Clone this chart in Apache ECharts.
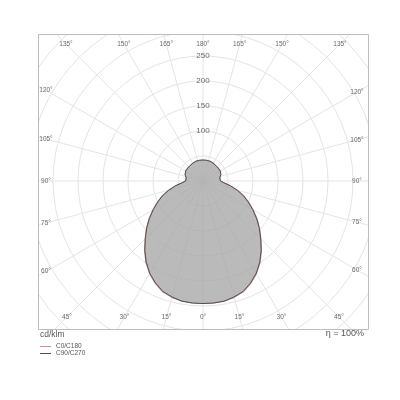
<!DOCTYPE html>
<html>
<head>
<meta charset="utf-8">
<script src="https://cdn.jsdelivr.net/npm/echarts@6/dist/echarts.min.js"></script>
<style>
html,body{margin:0;padding:0;background:#fff;}
#chart{width:400px;height:400px;}
</style>
</head>
<body>
<div id="chart"></div>
<script>
// Gamma angles (deg) for one half-plane, 0 = straight down, 180 = straight up
const gammaAngles = [0,5,10,15,20,25,30,35,40,45,50,55,60,65,70,75,80,85,90,95,100,105,110,115,120,125,130,135,140,145,150,155,160,165,170,175,180];
// Luminous intensity cd/klm, C90/C270 plane
const c90c270 = [245,245,244,240,235,225,213,198,181,163,147,131,115,100,86,71,56,42,35,33,34,36,38,39,40,40,40,40,40,41,41,41,42,42,42,42,42];
// Luminous intensity cd/klm, C0/C180 plane
const c0c180 = [245,245,244,241,236,226,214,199,182,164,148,132,116,101,87,71,56,42,35,33,34,36,38,39,40,40,40,40,40,41,41,41,42,42,42,42,42];
// Tick labels
const angleTicks = [0,15,30,45,60,75,90,105,120,135,150,165,180,195,210,225,240,255,270,285,300,315,330,345];
const radiusTicks = [100,150,200,250];
const seriesNames = ['C0/C180','C90/C270'];
const unitText = 'cd/klm';
const effText = 'η = 100%';

function fullCurve(vals){
  const out = [];
  for (let i = 0; i < gammaAngles.length; i++) out.push([vals[i], gammaAngles[i]]);
  for (let i = gammaAngles.length - 2; i >= 0; i--) out.push([vals[i], 360 - gammaAngles[i]]);
  return out;
}

const CX = 203, CY = 181, R = 225, RMAX = 450;
const FRAME = {x:38, y:34, w:330, h:295};
const chart = echarts.init(document.getElementById('chart'), null, {renderer:'canvas'});
const gridColor = '#e4e4e4';

chart.setOption({
  animation:false,
  backgroundColor:'#fff',
  polar:{center:[CX,CY], radius:R},
  angleAxis:{
    type:'value', min:0, max:360, interval:15, startAngle:270, clockwise:false,
    axisLine:{show:false}, axisTick:{show:false}, axisLabel:{show:false},
    splitLine:{show:true, lineStyle:{color:gridColor, width:1}}
  },
  radiusAxis:{
    type:'value', min:0, max:RMAX, interval:50,
    axisLine:{show:false}, axisTick:{show:false}, axisLabel:{show:false},
    splitLine:{show:true, lineStyle:{color:gridColor, width:1}}
  },
  legend:{
    orient:'vertical', left:40, top:343, padding:0, itemGap:0, z:300,
    icon:'rect', itemWidth:11, itemHeight:1,
    textStyle:{fontSize:6.5, lineHeight:6, color:'#555', fontFamily:'Liberation Sans'},
    data:seriesNames
  },
  series:[
    {name:seriesNames[0], type:'line', coordinateSystem:'polar', symbol:'none', smooth:false,
     lineStyle:{color:'#cf8e8e', width:1.1}, itemStyle:{color:'#cf8e8e'},
     data:fullCurve(c0c180), z:3},
    {name:seriesNames[1], type:'line', coordinateSystem:'polar', symbol:'none', smooth:false,
     lineStyle:{color:'#505050', width:1}, itemStyle:{color:'#505050'},
     areaStyle:{color:'#a6a6a6', opacity:0.78},
     data:fullCurve(c90c270), z:4}
  ]
});

function toPixel(r, a){
  let p = null;
  try { p = chart.convertToPixel({seriesIndex:1}, [r, a]); } catch(e) { p = null; }
  if (!p || isNaN(p[0])) {
    const t = r / RMAX * R, rad = a * Math.PI / 180;
    p = [CX + t * Math.sin(rad), CY + t * Math.cos(rad)];
  }
  return p;
}

const graphics = [];
// mask outside frame
graphics.push({type:'rect', z:100, shape:{x:0,y:0,width:400,height:FRAME.y}, style:{fill:'#fff'}, silent:true});
graphics.push({type:'rect', z:100, shape:{x:0,y:FRAME.y+FRAME.h,width:400,height:400}, style:{fill:'#fff'}, silent:true});
graphics.push({type:'rect', z:100, shape:{x:0,y:0,width:FRAME.x,height:400}, style:{fill:'#fff'}, silent:true});
graphics.push({type:'rect', z:100, shape:{x:FRAME.x+FRAME.w,y:0,width:400,height:400}, style:{fill:'#fff'}, silent:true});
graphics.push({type:'rect', z:101, shape:{x:FRAME.x+0.5,y:FRAME.y+0.5,width:FRAME.w,height:FRAME.h}, style:{fill:null, stroke:'#bdbdbd', lineWidth:1}, silent:true});

// angle labels along the frame
const c = toPixel(0, 0);
const dL = c[0] - 46, dR = 357 - c[0], dT = c[1] - 44, dB = 317 - c[1];
angleTicks.forEach(a => {
  const rad = a * Math.PI / 180, s = Math.sin(rad), co = Math.cos(rad);
  let t = Infinity;
  if (s > 1e-6) t = Math.min(t, dR / s);
  if (s < -1e-6) t = Math.min(t, dL / -s);
  if (co > 1e-6) t = Math.min(t, dB / co);
  if (co < -1e-6) t = Math.min(t, dT / -co);
  const disp = a <= 180 ? a : 360 - a;
  graphics.push({type:'text', z:102, x:c[0] + t * s, y:c[1] + t * co,
    style:{text:disp + '°', fill:'#6a6a6a', fontSize:6.5, fontFamily:'Liberation Sans', align:'center', verticalAlign:'middle'}});
});
// radius labels on the 180° line
radiusTicks.forEach(r => {
  const p = toPixel(r, 180);
  graphics.push({type:'text', z:102, x:p[0], y:p[1],
    style:{text:String(r), fill:'#6a6a6a', fontSize:8, fontFamily:'Liberation Sans', align:'center', verticalAlign:'middle'}});
});
graphics.push({type:'text', z:102, x:40, y:335, style:{text:unitText, fill:'#555', fontSize:8.5, fontFamily:'Liberation Sans', align:'left', verticalAlign:'middle'}});
graphics.push({type:'text', z:102, x:364, y:334, style:{text:effText, fill:'#555', fontSize:9, fontFamily:'Liberation Sans', align:'right', verticalAlign:'middle'}});

chart.setOption({graphic:{elements:graphics}});
</script>
</body>
</html>
